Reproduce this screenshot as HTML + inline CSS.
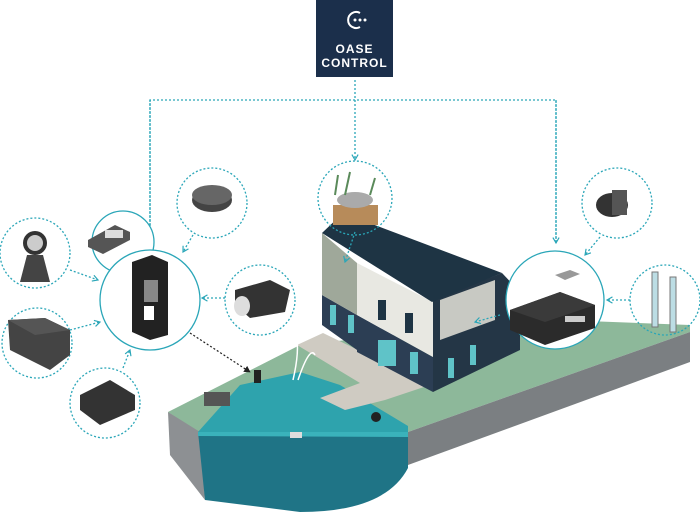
<!DOCTYPE html>
<html><head><meta charset="utf-8"><style>
html,body{margin:0;padding:0;background:#fff;width:700px;height:513px;overflow:hidden}
svg{display:block}
</style></head><body>
<svg width="700" height="513" viewBox="0 0 700 513" xmlns="http://www.w3.org/2000/svg" font-family="Liberation Sans, sans-serif">
<defs>
<marker id="ar" viewBox="0 0 10 10" refX="8" refY="5" markerWidth="6" markerHeight="6" orient="auto"><path d="M1,1 L8,5 L1,9" fill="none" stroke="#2aa6b8" stroke-width="1.5"/></marker>
<marker id="ak" viewBox="0 0 10 10" refX="8" refY="5" markerWidth="6" markerHeight="6" orient="auto"><path d="M0,0 L9,5 L0,10z" fill="#222"/></marker>
</defs>
<!-- ground -->
<polygon points="168,412 300,345 440,330 560,320 690,325 690,332 408,432 200,434" fill="#8db89a"/>
<polygon points="408,432 690,332 690,362 408,465" fill="#7b7f82"/>
<polygon points="168,412 200,432 205,500 170,455" fill="#8d9093"/>
<!-- pond -->
<path d="M198,432 L240,385 L300,372 L340,385 L408,426 L408,434 Z" fill="#2ea3ad"/>
<path d="M198,432 L408,434 L408,468 Q385,512 300,512 Q245,505 205,500 Z" fill="#1f7486"/>
<path d="M198,432 L408,432 L408,437 L198,436 Z" fill="#3ab2bb"/>
<!-- dock -->
<polygon points="297,345 323,333 430,385 385,400 345,410 320,398 360,383" fill="#cfcbc2"/>
<!-- house -->
<polygon points="322,295 357,315 357,350 322,325" fill="#2c3e54"/>
<polygon points="357,315 433,357 433,392 357,352" fill="#2c3e54"/>
<polygon points="433,300 502,273 520,292 520,350 433,392" fill="#243646"/>
<polygon points="322,233 357,263 357,315 322,295" fill="#9fa89a"/>
<polygon points="357,263 433,302 433,357 357,315" fill="#e8e8e2"/>
<polygon points="440,300 495,280 495,320 440,340" fill="#c8c9c3"/>
<polygon points="322,233 343,213 502,273 432,302" fill="#1e3444"/>
<rect x="378" y="300" width="8" height="20" fill="#1e3444"/><rect x="405" y="313" width="8" height="20" fill="#1e3444"/>
<rect x="378" y="340" width="18" height="26" fill="#5fc3c8"/><rect x="410" y="352" width="8" height="22" fill="#5fc3c8"/>
<rect x="330" y="305" width="6" height="20" fill="#5fc3c8"/><rect x="348" y="315" width="6" height="18" fill="#5fc3c8"/>
<rect x="448" y="358" width="6" height="20" fill="#5fc3c8"/><rect x="470" y="345" width="6" height="20" fill="#5fc3c8"/>
<!-- fountains -->
<path d="M293,380 Q300,350 296,335 M298,380 Q310,345 315,355" stroke="#fff" fill="none" stroke-width="1.5"/>
<rect x="290" y="432" width="12" height="6" fill="#ddd"/>
<circle cx="376" cy="417" r="5" fill="#222"/>
<rect x="204" y="392" width="26" height="14" fill="#555"/>
<rect x="254" y="370" width="7" height="13" fill="#222"/>
<!-- logo -->
<rect x="316" y="0" width="77" height="77" fill="#1b2f4b"/>
<path d="M360,13 A8,8 0 1,0 360,27" stroke="#fff" stroke-width="2" fill="none"/>
<circle cx="355" cy="20" r="1.5" fill="#fff"/><circle cx="360" cy="20" r="1.5" fill="#fff"/><circle cx="365" cy="20" r="1.5" fill="#fff"/>
<text x="354.5" y="53" fill="#fff" font-size="12" font-weight="bold" text-anchor="middle" letter-spacing="1">OASE</text>
<text x="354.5" y="67" fill="#fff" font-size="12" font-weight="bold" text-anchor="middle" letter-spacing="1">CONTROL</text>
<!-- connectors -->
<g stroke="#2aa6b8" stroke-width="1.3" stroke-dasharray="2,2" fill="none">
<line x1="355" y1="80" x2="355" y2="160" marker-end="url(#ar)"/>
<polyline points="150,245 150,100 556,100 556,243" />
<line x1="150" y1="100" x2="150" y2="245" marker-end="url(#ar)"/>
<line x1="556" y1="100" x2="556" y2="243" marker-end="url(#ar)"/>
<line x1="193" y1="235" x2="183" y2="252" marker-end="url(#ar)"/>
<line x1="70" y1="270" x2="98" y2="280" marker-end="url(#ar)"/>
<line x1="70" y1="330" x2="100" y2="322" marker-end="url(#ar)"/>
<line x1="123" y1="368" x2="130" y2="350" marker-end="url(#ar)"/>
<line x1="225" y1="298" x2="202" y2="298" marker-end="url(#ar)"/>
<line x1="600" y1="237" x2="585" y2="255" marker-end="url(#ar)"/>
<line x1="630" y1="300" x2="607" y2="300" marker-end="url(#ar)"/>
<line x1="355" y1="232" x2="345" y2="262" marker-end="url(#ar)"/>
<line x1="500" y1="315" x2="475" y2="322" marker-end="url(#ar)"/>
<circle cx="212" cy="203" r="35"/><circle cx="35" cy="253" r="35"/><circle cx="37" cy="343" r="35"/>
<circle cx="105" cy="403" r="35"/><circle cx="260" cy="300" r="35"/><circle cx="355" cy="198" r="37"/>
<circle cx="617" cy="203" r="35"/><circle cx="665" cy="300" r="35"/>
</g>
<line x1="190" y1="333" x2="250" y2="372" stroke="#222" stroke-width="1.2" stroke-dasharray="2,2" marker-end="url(#ak)"/>
<!-- solid circles -->
<circle cx="123" cy="242" r="31" fill="#fff" stroke="#2aa6b8" stroke-width="1.3"/>
<circle cx="150" cy="300" r="50" fill="#fff" stroke="#2aa6b8" stroke-width="1.3"/>
<circle cx="555" cy="300" r="49" fill="#fff" stroke="#2aa6b8" stroke-width="1.3"/>
<!-- products -->
<polygon points="132,262 152,255 168,262 168,335 150,340 132,332" fill="#222"/>
<rect x="144" y="280" width="14" height="22" fill="#888"/><rect x="144" y="306" width="10" height="14" fill="#fff"/>
<polygon points="88,240 115,225 130,232 130,240 103,254 88,247" fill="#555"/><rect x="105" y="230" width="18" height="8" fill="#ddd"/>
<ellipse cx="212" cy="200" rx="20" ry="12" fill="#444"/><ellipse cx="212" cy="195" rx="20" ry="10" fill="#666"/>
<circle cx="35" cy="243" r="12" fill="#333"/><circle cx="35" cy="243" r="8" fill="#ccc"/><polygon points="27,255 43,255 50,282 20,282" fill="#444"/>
<polygon points="8,320 45,318 70,330 70,355 50,370 10,350" fill="#444"/><polygon points="8,320 45,318 70,330 35,335" fill="#555"/>
<polygon points="80,395 110,380 135,395 135,410 100,425 80,410" fill="#333"/>
<polygon points="235,290 270,280 290,290 285,312 250,318 235,305" fill="#333"/><ellipse cx="242" cy="306" rx="8" ry="10" fill="#ddd"/>
<polygon points="510,310 560,292 595,305 595,328 545,345 510,330" fill="#2b2b2b"/><polygon points="510,310 560,292 595,305 545,322" fill="#3a3a3a"/>
<rect x="565" y="316" width="20" height="6" fill="#ccc"/><polygon points="555,275 570,270 580,274 565,280" fill="#999"/>
<ellipse cx="612" cy="205" rx="16" ry="12" fill="#333"/><rect x="612" y="190" width="15" height="25" fill="#555"/>
<rect x="652" y="272" width="6" height="55" fill="#bcdde4" stroke="#777"/><rect x="670" y="277" width="6" height="55" fill="#bcdde4" stroke="#777"/>
<rect x="333" y="205" width="45" height="20" fill="#b78b5a"/><ellipse cx="355" cy="200" rx="18" ry="8" fill="#aaa"/>
<path d="M335,195 L338,175 M345,195 L350,172 M370,195 L375,178" stroke="#5a8a5a" stroke-width="2"/>
</svg>
</body></html>
